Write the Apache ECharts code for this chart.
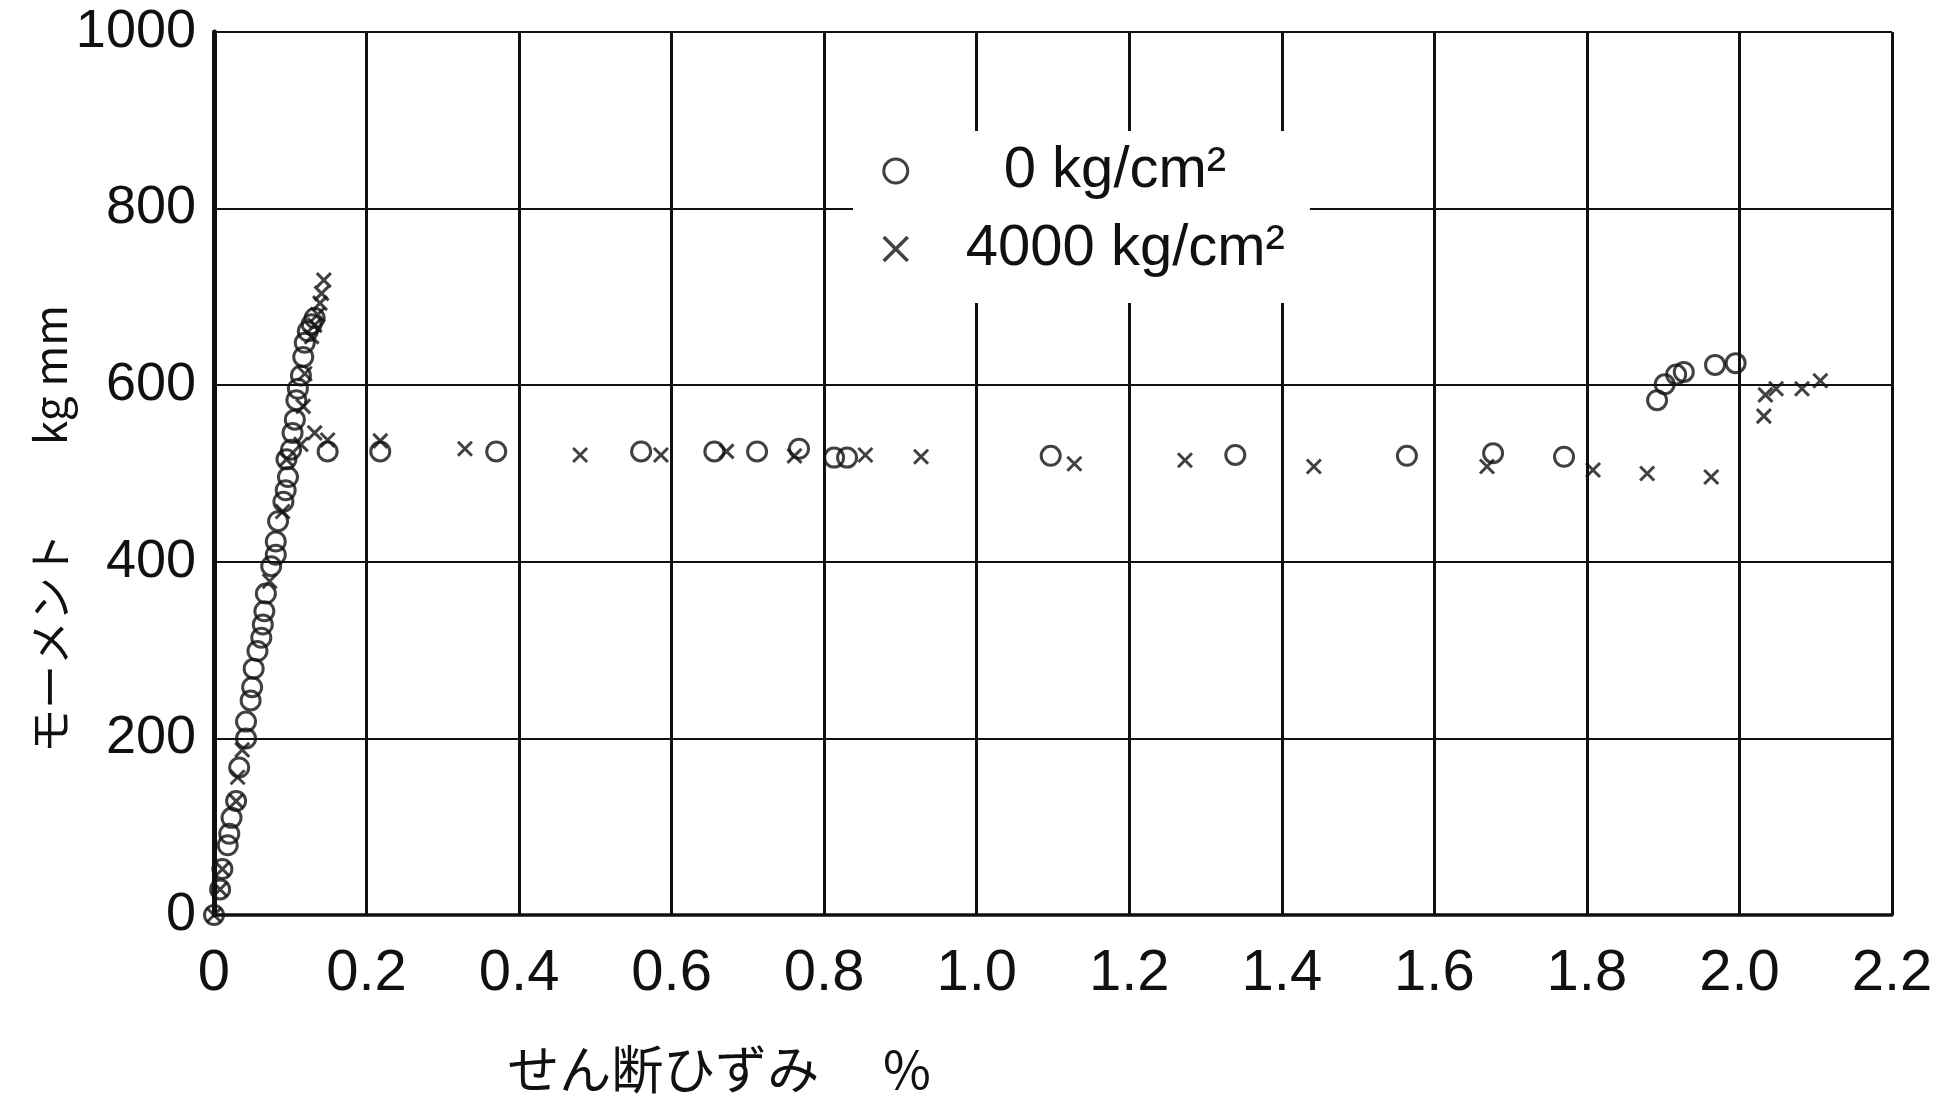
<!DOCTYPE html>
<html>
<head>
<meta charset="utf-8">
<title>モーメント - せん断ひずみ</title>
<script src="https://cdn.jsdelivr.net/npm/echarts@6/dist/echarts.min.js"></script>
<style>
  html, body { margin: 0; padding: 0; background: #fff; }
  #chart { width: 1953px; height: 1103px; }
</style>
</head>
<body>
<div id="chart"></div>
<script>
// 軸目盛
const xTicks = [0, 0.2, 0.4, 0.6, 0.8, 1.0, 1.2, 1.4, 1.6, 1.8, 2.0, 2.2]
const yTicks = [0, 200, 400, 600, 800, 1000]

// ○ 0 kg/cm² : せん断ひずみ % / モーメント kg mm
const strain0 = [
  0, 0.008, 0.011, 0.018, 0.020, 0.023, 0.029, 0.033, 0.042, 0.042,
  0.048, 0.050, 0.052, 0.057, 0.062, 0.064, 0.066, 0.068, 0.075, 0.081,
  0.081, 0.084, 0.091, 0.094, 0.097, 0.095, 0.101, 0.103, 0.106, 0.108,
  0.110, 0.114, 0.117, 0.119, 0.123, 0.128, 0.132,
  0.149, 0.218, 0.370, 0.560, 0.656, 0.712, 0.767, 0.813, 0.830,
  1.097, 1.339, 1.564, 1.677, 1.770,
  1.892, 1.902, 1.917, 1.927, 1.968, 1.995
]
const moment0 = [
  0, 29, 52, 79, 92, 110, 129, 167, 200, 219,
  243, 258, 279, 299, 314, 329, 344, 364, 395, 408,
  423, 446, 468, 481, 496, 516, 527, 546, 561, 583,
  596, 611, 632, 648, 661, 669, 676,
  525, 525, 525, 525, 525, 525, 528, 518, 518,
  520, 521, 520, 523, 519,
  583, 601, 612, 615, 623, 625
]

// × 4000 kg/cm²
const strain4000 = [
  0, 0.008, 0.011, 0.029, 0.031, 0.037, 0.073, 0.090, 0.095, 0.114,
  0.117, 0.119, 0.128, 0.132, 0.136, 0.139, 0.141, 0.144,
  0.132, 0.149, 0.218, 0.329, 0.480, 0.586, 0.672, 0.761, 0.854, 0.927,
  1.128, 1.273, 1.442, 1.669, 1.808, 1.879, 1.963,
  2.032, 2.034, 2.048, 2.082, 2.106
]
const moment4000 = [
  0, 29, 52, 129, 156, 187, 378, 457, 516, 533,
  576, 613, 655, 668, 680, 693, 704, 719,
  546, 538, 537, 528, 521, 521, 525, 520, 521, 519,
  511, 515, 508, 508, 504, 500, 496,
  565, 589, 596, 596, 605
]

const seriesNames = ['0 kg/cm²', '4000 kg/cm²']

const INK = '#111'
const CROSS = 'path://M0,0L10,10M0,10L10,0'

const toPairs = (xs, ys) => xs.map((x, i) => [x, ys[i]])

const chart = echarts.init(document.getElementById('chart'))

const option = {
  backgroundColor: '#fff',
  animation: false,
  grid: {
    left: 214,
    right: 61,
    top: 32,
    bottom: 188,
    outerBoundsMode: 'none'
  },
  legend: {
    orient: 'vertical',
    left: 853,
    top: 131,
    backgroundColor: '#fff',
    padding: [8, 25, 22, 29],
    itemGap: 14,
    itemWidth: 24,
    itemHeight: 24,
    data: [
      {
        name: seriesNames[0],
        icon: 'circle',
        itemStyle: { color: 'transparent', borderColor: INK, borderWidth: 3 }
      },
      {
        name: seriesNames[1],
        icon: CROSS,
        itemStyle: { color: 'transparent', borderColor: INK, borderWidth: 3.5 }
      }
    ],
    formatter: name => name === seriesNames[0] ? '{a|' + name + '}' : '{b|' + name + '}',
    textStyle: {
      color: INK,
      fontFamily: 'Liberation Sans, Arial, sans-serif',
      fontSize: 58,
      lineHeight: 64,
      rich: {
        a: { fontSize: 58, lineHeight: 64, padding: [0, 0, 0, 91] },
        b: { fontSize: 58, lineHeight: 64, padding: [0, 0, 0, 53] }
      }
    }
  },
  xAxis: {
    type: 'value',
    min: xTicks[0],
    max: xTicks[xTicks.length - 1],
    interval: 0.2,
    axisLine: { show: true, onZero: false, lineStyle: { color: INK, width: 3.5 } },
    axisTick: { show: false },
    splitLine: { show: true, lineStyle: { color: INK, width: 3 } },
    axisLabel: {
      margin: 30,
      color: INK,
      fontSize: 58,
      fontFamily: 'Liberation Sans, Arial, sans-serif',
      formatter: v => (v === 0 ? '0' : v.toFixed(1))
    }
  },
  yAxis: {
    type: 'value',
    min: yTicks[0],
    max: yTicks[yTicks.length - 1],
    interval: 200,
    axisLine: { show: true, lineStyle: { color: INK, width: 5 } },
    axisTick: { show: false },
    splitLine: { show: true, lineStyle: { color: INK, width: 2 } },
    axisLabel: {
      margin: 18,
      color: INK,
      fontSize: 54,
      fontFamily: 'Liberation Sans, Arial, sans-serif',
      formatter: v => String(v)
    }
  },
  // 軸タイトル
  graphic: [
    {
      type: 'text',
      x: 50,
      y: 529,
      rotation: Math.PI / 2,
      style: {
        text: 'モーメント　　kg mm',
        fill: INK,
        font: '44px "Noto Sans CJK JP", sans-serif',
        align: 'center',
        verticalAlign: 'middle'
      }
    },
    {
      type: 'text',
      x: 719,
      y: 1069,
      style: {
        text: 'せん断ひずみ　 %',
        fill: INK,
        font: '52px "Noto Sans CJK JP", sans-serif',
        align: 'center',
        verticalAlign: 'middle'
      }
    }
  ],
  series: [
    {
      name: seriesNames[0],
      type: 'scatter',
      symbol: 'circle',
      symbolSize: 19,
      itemStyle: { color: 'transparent', borderColor: INK, borderWidth: 3 },
      data: toPairs(strain0, moment0)
    },
    {
      name: seriesNames[1],
      type: 'scatter',
      symbol: CROSS,
      symbolSize: 14,
      itemStyle: { color: 'transparent', borderColor: INK, borderWidth: 3 },
      data: toPairs(strain4000, moment4000)
    }
  ]
}

chart.setOption(option)

window.addEventListener('resize', () => chart.resize())
</script>
</body>
</html>
